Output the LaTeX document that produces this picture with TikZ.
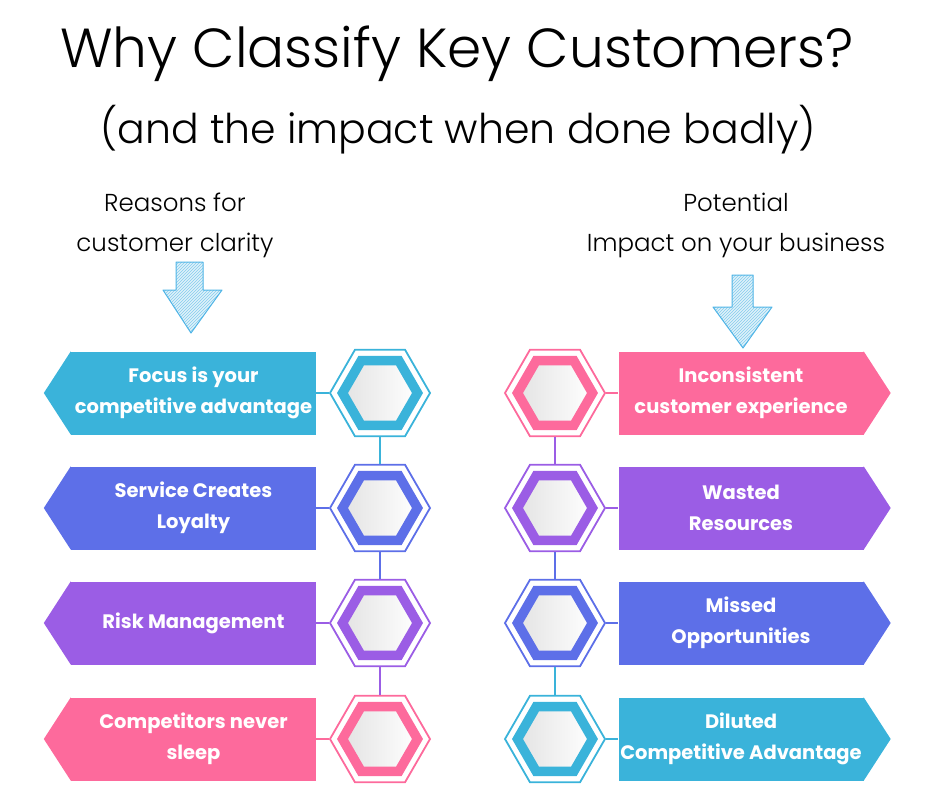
\documentclass[tikz,border=0pt]{standalone}
\usepackage{fontspec}
\setmainfont{Poppins}
\newfontfamily\thinfont{Poppins Light}
\usetikzlibrary{shapes.geometric,patterns,calc}

\definecolor{kcyan}{HTML}{3AB3DA}
\definecolor{kblue}{HTML}{5D6FE8}
\definecolor{kpurple}{HTML}{9B5DE5}
\definecolor{kpink}{HTML}{FD6A9C}
\definecolor{arrowline}{HTML}{4FB4E6}

\tikzset{
  banner/.style={fill=#1, minimum width=245pt, minimum height=83pt, inner sep=0pt,
    text=white, align=center, font=\bfseries\fontsize{19.5}{31}\selectfont},
  hexout/.style={regular polygon, regular polygon sides=6, minimum size=100pt,
    inner sep=0pt, draw=#1, line width=1.8pt},
  hexin/.style={regular polygon, regular polygon sides=6, minimum size=75pt,
    inner sep=0pt, draw=#1, line width=9.5pt, left color=gray!22, right color=white},
  link/.style={draw=#1, line width=2.4pt},
  heading/.style={align=center, font=\thinfont\fontsize{24.5}{40}\selectfont},
  sketcharrow/.style={draw=arrowline, line width=1pt, line join=round,
    preaction={fill=arrowline!18}, pattern=north east lines, pattern color=arrowline!70},
}

\begin{document}
\begin{tikzpicture}[x=1pt, y=-1pt]
	\useasboundingbox (0,0) rectangle (934,807);

	% titles
	\node[font=\thinfont\fontsize{55}{60}\selectfont] (title) at (457,54) {Why Classify Key Customers?};
	\node[font=\thinfont\fontsize{41}{50}\selectfont] (subtitle) at (458,130) {(and the impact when done badly)};

	\node[heading] (lhead) at (175,225) {Reasons for\\customer clarity};
	\node[heading] (rhead) at (736,225) {Potential\\Impact on your business};

	% sketchy arrows
	\draw[sketcharrow] (176,262) -- (203,262) -- (203,290) -- (222,290) -- (191,333)
		-- (163,290) -- (176,290) -- cycle;
	\draw[sketcharrow] (732,275) -- (753,275) -- (753,307) -- (772,307) -- (743,348)
		-- (713,307) -- (732,307) -- cycle;

	% left column
	\node[banner=kcyan] (lb1) at (193.5,393) {Focus is your\\competitive advantage};
	\node[banner=kblue] (lb2) at (193.5,508) {Service Creates\\Loyalty};
	\node[banner=kpurple] (lb3) at (193.5,623) {Risk Management};
	\node[banner=kpink] (lb4) at (193.5,739) {Competitors never\\sleep};

	\foreach \i/\c in {1/kcyan,2/kblue,3/kpurple,4/kpink} {
		\fill[\c] (lb\i.north west) -- ($(lb\i.west)+(-27,0)$) -- (lb\i.south west) -- cycle;
	}

	\node[hexout=kcyan] (lh1) at (380,393) {};
	\node[hexout=kblue] (lh2) at (380,508) {};
	\node[hexout=kpurple] (lh3) at (380,623) {};
	\node[hexout=kpink] (lh4) at (380,739) {};
	\foreach \i/\c in {1/kcyan,2/kblue,3/kpurple,4/kpink} {
		\node[hexin=\c] at (lh\i) {};
		\draw[link=\c] (lb\i.east) -- (lh\i.west);
	}
	\draw[link=kcyan] (lh1.south) -- (lh2.north);
	\draw[link=kblue] (lh2.south) -- (lh3.north);
	\draw[link=kpurple] (lh3.south) -- (lh4.north);

	% right column
	\node[banner=kpink] (rb1) at (741,393) {Inconsistent\\customer experience};
	\node[banner=kpurple] (rb2) at (741,508) {Wasted\\Resources};
	\node[banner=kblue] (rb3) at (741,623) {Missed\\Opportunities};
	\node[banner=kcyan] (rb4) at (741,739) {Diluted\\Competitive Advantage};

	\foreach \i/\c in {1/kpink,2/kpurple,3/kblue,4/kcyan} {
		\fill[\c] (rb\i.north east) -- ($(rb\i.east)+(27,0)$) -- (rb\i.south east) -- cycle;
	}

	\node[hexout=kpink] (rh1) at (555,393) {};
	\node[hexout=kpurple] (rh2) at (555,508) {};
	\node[hexout=kblue] (rh3) at (555,623) {};
	\node[hexout=kcyan] (rh4) at (555,739) {};
	\foreach \i/\c in {1/kpink,2/kpurple,3/kblue,4/kcyan} {
		\node[hexin=\c] at (rh\i) {};
		\draw[link=\c] (rh\i.east) -- (rb\i.west);
	}
	\draw[link=kpurple] (rh1.south) -- (rh2.north);
	\draw[link=kblue] (rh2.south) -- (rh3.north);
	\draw[link=kcyan] (rh3.south) -- (rh4.north);

\end{tikzpicture}
\end{document}
